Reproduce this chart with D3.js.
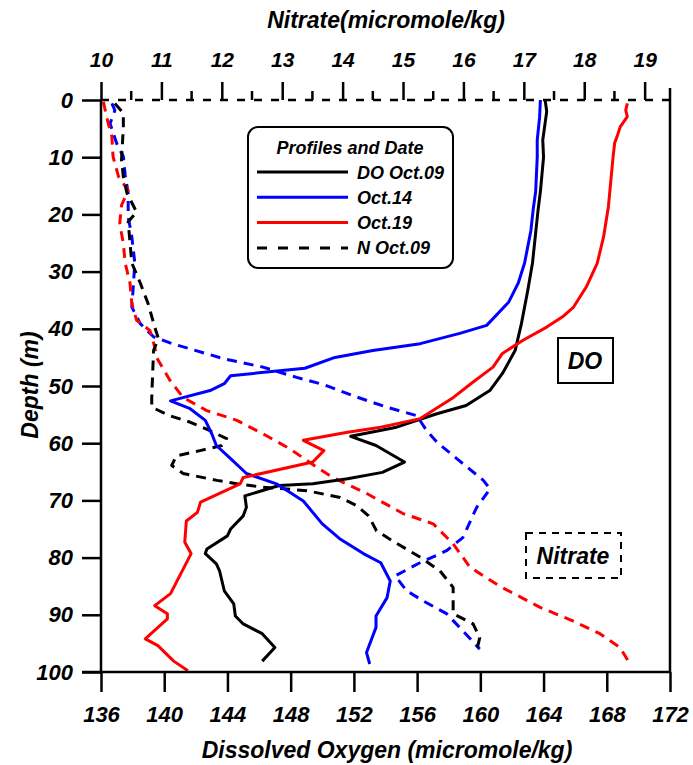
<!DOCTYPE html>
<html>
<head>
<meta charset="utf-8">
<script src="https://cdn.jsdelivr.net/npm/d3@7"></script>
<style>
body { margin: 0; background: #fff; }
text { font-family: "Liberation Sans", Arial, sans-serif; font-weight: bold; font-style: italic; fill: #000; }
.tick text { font-size: 22px; }
.title { font-size: 23px; }
.domain { display: none; }
.line { fill: none; stroke-width: 3; stroke-linejoin: round; }
.dash { stroke-dasharray: 10,7; }
</style>
</head>
<body>
<script>
//Global variables
const width = 693;
const height = 765;
const plotLeft = 101, plotRight = 670, plotTop = 100, plotBottom = 672;

//Tick labels
const doTicks = [136, 140, 144, 148, 152, 156, 160, 164, 168, 172];
const nTicks = [10, 11, 12, 13, 14, 15, 16, 17, 18, 19];
const depthTicks = [0, 10, 20, 30, 40, 50, 60, 70, 80, 90, 100];

//Dissolved oxygen profiles [depth m, DO micromole/kg]
const doOct09 = [[0, 164.1], [2, 164.2], [4, 164.1], [7, 163.95], [10, 164.0], [13, 163.9], [16, 163.8],
  [19.3, 163.65], [28.5, 163.3], [33.3, 163.0], [39.1, 162.6], [43.8, 162.2], [47.8, 161.4],
  [50.8, 160.6], [53.4, 159.1], [54.9, 157.2], [57.2, 154.7], [58.8, 151.8], [60.4, 153.4], [63.3, 155.2],
  [65.1, 153.8], [66.2, 151.6], [67.1, 149.4], [67.4, 147.3], [67.7, 146.9], [69.2, 145.1], [71.2, 145.2],
  [72.7, 145.0], [75.0, 144.2], [76.2, 144.0], [78.5, 142.7], [79.3, 142.6], [81.1, 143.3], [82.3, 143.5],
  [85.8, 143.8], [88.1, 144.4], [90.2, 144.5], [91.6, 145.0], [93.3, 146.2], [95.7, 147.0], [98.1, 146.2]];

const doOct14 = [[0, 163.8], [3, 163.75], [7, 163.6], [10, 163.6], [13, 163.55], [16, 163.5], [19, 163.35],
  [22.8, 163.2], [28.5, 162.8], [32.0, 162.4], [35.3, 161.8], [39.4, 160.4], [40.8, 158.7],
  [42.6, 156.2], [43.8, 153.2], [45.0, 150.8], [46.9, 148.9], [48.2, 144.2], [49.6, 143.8], [50.8, 142.9],
  [52.6, 140.4], [53.9, 141.6], [56.0, 142.6], [58.3, 143.0], [60.4, 143.3], [62.7, 144.2], [65.3, 145.2],
  [67.1, 147.1], [70.1, 148.8], [74.1, 150.0], [76.7, 151.1], [79.3, 152.6], [80.9, 153.7], [84.1, 154.3],
  [87.0, 154.1], [90.2, 153.4], [92.2, 153.4], [96.6, 152.8], [98.6, 153.0]];

const doOct19 = [[0.6, 169.3], [1.8, 169.2], [2.9, 169.3], [4.7, 168.85], [6.4, 168.65], [7.5, 168.5],
  [9.9, 168.4], [15.8, 168.2], [18.7, 168.1], [23.9, 167.8], [28.5, 167.4], [32.7, 166.7], [36.2, 165.9],
  [37.9, 165.2], [39.7, 164.2], [42.0, 162.7], [44.3, 161.4], [46.7, 160.8], [49.6, 159.4], [52.0, 158.3],
  [55.7, 156.2], [57.2, 153.7], [58.1, 151.6], [59.5, 148.8], [61.3, 150.1], [63.3, 149.4], [66.0, 145.0],
  [67.1, 144.8], [70.3, 142.3], [72.1, 142.1], [73.6, 141.4], [77.3, 141.3], [79.3, 141.7], [86.3, 140.4],
  [88.4, 139.4], [89.8, 140.2], [90.7, 140.2], [94.2, 138.8], [95.4, 139.6], [98.1, 140.6], [99.8, 141.5]];

//Nitrate profiles [depth m, nitrate micromole/kg]
const nOct09 = [[0.6, 10.23], [2.3, 10.37], [4.7, 10.37], [10.5, 10.34], [13.4, 10.37], [16.3, 10.43],
  [19.6, 10.59], [21.3, 10.45], [28.5, 10.51], [32.0, 10.65], [35.6, 10.78], [39.7, 10.89], [41.7, 10.95],
  [43.8, 10.87], [52.0, 10.84], [53.7, 10.84], [55.2, 11.14], [56.3, 11.47], [57.4, 11.72], [59.2, 12.08],
  [60.4, 12.00], [61.3, 11.64], [62.2, 11.25], [63.9, 11.17], [65.3, 11.36], [66.5, 11.92], [67.1, 12.25],
  [67.7, 12.68], [68.3, 13.41], [69.5, 13.96], [70.9, 14.23], [72.7, 14.43], [75.3, 14.56], [77.1, 14.83],
  [79.9, 15.28], [82.3, 15.61], [85.2, 15.83], [89.8, 15.83], [91.6, 16.16], [94.0, 16.27], [96.3, 16.22]];

const nOct14 = [[0.6, 10.18], [1.8, 10.23], [4.1, 10.15], [7.6, 10.26], [9.9, 10.37], [13.1, 10.40],
  [16.3, 10.45], [20.4, 10.45], [23.9, 10.51], [28.5, 10.56], [33.3, 10.53], [36.2, 10.51], [39.1, 10.65],
  [41.4, 10.87], [42.6, 11.18], [45.2, 12.02], [46.7, 12.68], [48.5, 13.24], [49.8, 13.70], [51.7, 14.17],
  [53.7, 14.73], [55.2, 15.23], [57.8, 15.39], [59.8, 15.56], [62.7, 15.89], [66.5, 16.33], [68.0, 16.44],
  [71.2, 16.22], [76.5, 15.99], [78.8, 15.72], [80.9, 15.28], [83.2, 14.87], [85.8, 15.06], [87.6, 15.34],
  [89.8, 15.72], [92.8, 15.99], [96.0, 16.27]];

const nOct19 = [[0.3, 10.04], [1.8, 10.07], [4.1, 10.12], [6.4, 10.18], [9.9, 10.20], [13.4, 10.29],
  [15.8, 10.45], [18.4, 10.34], [21.6, 10.31], [25.1, 10.37], [28.5, 10.40], [32.0, 10.48], [35.6, 10.51],
  [38.5, 10.59], [40.3, 10.81], [43.2, 10.89], [45.0, 10.92], [49.0, 11.14], [52.0, 11.36], [54.3, 11.75],
  [56.0, 12.25], [58.7, 12.74], [61.0, 13.13], [64.2, 13.57], [66.0, 13.84], [68.8, 14.40], [72.3, 15.00],
  [74.1, 15.50], [77.6, 15.83], [81.7, 16.11], [85.0, 16.60], [88.7, 17.27], [91.1, 17.82], [93.3, 18.26],
  [95.7, 18.59], [98.6, 18.76]];

//Legend entries
const legendLabels = ["DO Oct.09", "Oct.14", "Oct.19", "N Oct.09"];
const legendColors = ["#000", "#0000ff", "#ff0000", "#000"];

//Scales
const xDO = d3.scaleLinear().domain([136, 172]).range([plotLeft, plotRight]);
const xN = d3.scaleLinear().domain([10, 19.42]).range([plotLeft, plotRight]);
const yScale = d3.scaleLinear().domain([0, 100]).range([plotTop, plotBottom]);

//SVG element
const svg = d3.select("body").append("svg")
  .attr("width", width)
  .attr("height", height);

//Lines
const lineDO = d3.line().x(d => xDO(d[1])).y(d => yScale(d[0]));
const lineN = d3.line().x(d => xN(d[1])).y(d => yScale(d[0]));

const solids = [[doOct09, "#000"], [doOct14, "#0000ff"], [doOct19, "#ff0000"]];
const dashes = [[nOct14, "#0000ff"], [nOct19, "#ff0000"], [nOct09, "#000"]];

dashes.forEach(s => {
  svg.append("path").datum(s[0]).attr("class", "line dash").attr("d", lineN).attr("stroke", s[1]);
});
solids.forEach(s => {
  svg.append("path").datum(s[0]).attr("class", "line").attr("d", lineDO).attr("stroke", s[1]);
});

//Axes
const bottomAxis = d3.axisBottom(xDO).tickValues(doTicks).tickSize(20).tickPadding(14);
const leftAxis = d3.axisLeft(yScale).tickValues(depthTicks).tickSize(19).tickPadding(9);
const topAxis = d3.axisTop(xN).tickValues(nTicks).tickSize(18).tickPadding(15);

svg.append("g").attr("transform", "translate(0," + plotBottom + ")").call(bottomAxis);
svg.append("g").attr("transform", "translate(" + plotLeft + ",0)").call(leftAxis);
svg.append("g").attr("class", "topaxis").attr("transform", "translate(0," + plotTop + ")").call(topAxis);
svg.selectAll(".topaxis .tick text").style("font-size", "21px");

//minor ticks on nitrate axis
svg.append("g").selectAll("line")
  .data(d3.range(10.5, 19.4, 1))
  .join("line")
  .attr("x1", d => xN(d)).attr("x2", d => xN(d))
  .attr("y1", plotTop).attr("y2", plotTop - 9)
  .attr("stroke", "#000").attr("stroke-width", 2.5);

svg.selectAll(".tick line").attr("stroke", "#000").attr("stroke-width", 2.5);

//Frame lines
svg.append("line").attr("x1", plotLeft).attr("x2", plotLeft).attr("y1", plotTop).attr("y2", plotBottom)
  .attr("stroke", "#000").attr("stroke-width", 2.5);
svg.append("line").attr("x1", plotRight).attr("x2", plotRight).attr("y1", plotTop - 12).attr("y2", plotBottom)
  .attr("stroke", "#000").attr("stroke-width", 2.5);
svg.append("line").attr("x1", plotLeft - 19).attr("x2", plotRight).attr("y1", plotBottom).attr("y2", plotBottom)
  .attr("stroke", "#000").attr("stroke-width", 2.5);
svg.append("line").attr("x1", plotLeft).attr("x2", plotRight).attr("y1", plotTop).attr("y2", plotTop)
  .attr("stroke", "#000").attr("stroke-width", 2.5).attr("stroke-dasharray", "8,9");

//Axis titles
svg.append("text").attr("class", "title")
  .attr("x", 386).attr("y", 28).attr("text-anchor", "middle")
  .text("Nitrate(micromole/kg)");
svg.append("text").attr("class", "title")
  .attr("x", 387).attr("y", 758).attr("text-anchor", "middle")
  .text("Dissolved Oxygen (micromole/kg)");
svg.append("text").attr("class", "title")
  .attr("transform", "translate(38,385) rotate(-90)").attr("text-anchor", "middle")
  .text("Depth (m)");

//Legend
const legend = svg.append("g");
legend.append("rect")
  .attr("x", 248).attr("y", 127).attr("width", 205).attr("height", 141)
  .attr("rx", 10).attr("fill", "#fff").attr("stroke", "#000").attr("stroke-width", 2);
legend.append("text").attr("x", 350).attr("y", 154).attr("text-anchor", "middle")
  .style("font-size", "18px").text("Profiles and Date");
legendLabels.forEach((lab, i) => {
  const yy = 172 + i * 25.3;
  legend.append("line").attr("x1", 257).attr("x2", 348).attr("y1", yy).attr("y2", yy)
    .attr("stroke", legendColors[i]).attr("stroke-width", 3)
    .attr("stroke-dasharray", i === 3 ? "10,11" : null);
  legend.append("text").attr("x", 357).attr("y", yy + 6.5).style("font-size", "18px").text(lab);
});

//Box labels
svg.append("rect").attr("x", 558).attr("y", 338).attr("width", 55).attr("height", 45)
  .attr("fill", "#fff").attr("stroke", "#000").attr("stroke-width", 2);
svg.append("text").attr("x", 585).attr("y", 369).attr("text-anchor", "middle")
  .style("font-size", "23px").text("DO");

svg.append("rect").attr("x", 526).attr("y", 533).attr("width", 95).attr("height", 45)
  .attr("fill", "#fff").attr("stroke", "#000").attr("stroke-width", 2).attr("stroke-dasharray", "7,6");
svg.append("text").attr("x", 573).attr("y", 564).attr("text-anchor", "middle")
  .style("font-size", "23px").text("Nitrate");
</script>
</body>
</html>
